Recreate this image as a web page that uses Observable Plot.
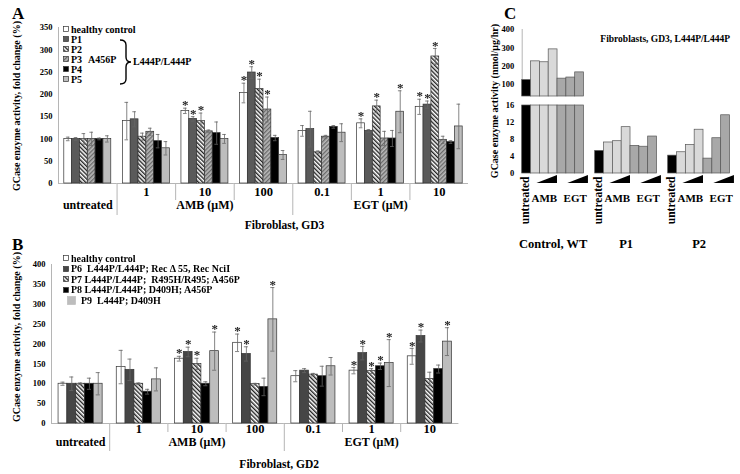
<!DOCTYPE html>
<html><head><meta charset="utf-8">
<script src="https://cdn.jsdelivr.net/npm/d3@7"></script>
<script src="https://cdn.jsdelivr.net/npm/@observablehq/plot@0.6"></script>
<style>
body{margin:0;background:#fff}
#fig{position:relative;width:740px;height:474px;overflow:hidden;background:#fff;font-family:"Liberation Serif","Times New Roman",serif;font-weight:bold;color:#000}
#fig > div.p{position:absolute}
.letter{position:absolute;font-size:17px;line-height:15px}
.ytitle{position:absolute;width:240px;height:12px;line-height:12px;text-align:center;white-space:nowrap;font-size:10px;transform:rotate(-90deg);transform-origin:center}
.leg{position:absolute;font-size:10px;white-space:pre}
.leg .row{display:flex;align-items:center}
.leg svg{margin-right:2px;flex:none}
.note{position:absolute;font-size:10px;white-space:nowrap}
.stars{will-change:transform}
</style></head>
<body>
<div id="fig">
<svg width="0" height="0" style="position:absolute">
 <defs>
  <pattern id="hatchBW" patternUnits="userSpaceOnUse" width="3" height="3" patternTransform="rotate(-45)">
   <rect width="3" height="3" fill="#fff"/><rect width="1.4" height="3" fill="#222"/>
  </pattern>
  <pattern id="hatchGray" patternUnits="userSpaceOnUse" width="3" height="3" patternTransform="rotate(45)">
   <rect width="3" height="3" fill="#b8b8b8"/><rect width="1.3" height="3" fill="#6a6a6a"/>
  </pattern>
 </defs>
</svg>
</div>
<script>
// ================= DATA =================
// Panels A & B: treatment groups (x facets)
const groupsAB = ["untreated","AMB 1","AMB 10","AMB 100","EGT 0.1","EGT 1","EGT 10"];
const doseLabels = ["","1","10","100","0.1","1","10"];
const drugLabelAt = ["untreated","AMB 10","EGT 1"];
const drugLabels = ["untreated","AMB (\u03bcM)","EGT (\u03bcM)"];

// Panel A (GD3)
const seriesA = ["healthy control","P1","P2","P3","P4","P5"];
const legendNoteA = ["","","","A456P","",""];
const aControl = [100,140,163,203,118,135,172];
const aControlErr = [4,42,6,22,12,10,17];
const aControlSig = [0,0,1,1,0,1,1];
const aP1 = [100,144,145,249,122,118,177];
const aP1Err = [3,17,5,13,40,3,8];
const aP1Sig = [0,0,1,1,0,0,1];
const aP2 = [100,105,140,212,70,173,285];
const aP2Err = [12,8,18,22,3,14,18];
const aP2Sig = [0,0,1,1,0,1,1];
const aP3 = [100,116,117,166,105,101,98];
const aP3Err = [15,8,3,28,3,16,8];
const aP3Sig = [0,0,0,1,0,0,0];
const aP4 = [100,95,113,102,127,101,93];
const aP4Err = [2,15,25,6,3,18,3];
const aP4Sig = [0,0,0,0,0,0,0];
const aP5 = [100,79,100,64,114,161,128];
const aP5Err = [7,15,10,10,20,47,50];
const aP5Sig = [0,0,0,0,0,1,0];

// Panel B (GD2)
const seriesB = ["healthy control","P6","P7","P8","P9"];
const legendB = ["healthy control","P6  L444P/L444P; Rec \u0394 55, Rec NciI","P7 L444P/L444P;  R495H/R495; A456P","P8 L444P/L444P; D409H; A456P","P9  L444P; D409H"];
const bControl = [100,142,163,203,119,133,169];
const bControlErr = [4,42,6,22,14,8,20];
const bControlSig = [0,0,1,1,0,1,1];
const bP6 = [100,135,180,175,133,177,220];
const bP6Err = [17,27,12,18,5,17,15];
const bP6Sig = [0,0,1,1,0,1,1];
const bP7 = [100,100,150,99,123,132,112];
const bP7Err = [2,2,14,2,3,6,17];
const bP7Sig = [0,0,1,0,0,1,0];
const bP8 = [100,80,100,92,119,144,137];
const bP8Err = [14,6,5,22,25,8,10];
const bP8Sig = [0,0,0,0,0,1,0];
const bP9 = [100,111,182,262,144,152,206];
const bP9Err = [28,29,48,80,22,59,35];
const bP9Sig = [0,0,1,1,0,1,1];

// Panel C (nmol/ug/hr)
const cGroups = ["Control, WT","P1","P2"];
const cConds = ["untreated","AMB low","AMB mid","AMB high","EGT low","EGT mid","EGT high"];
const cControl = [125,227,222,292,133,139,167];
const cP1 = [5.3,7.3,7.6,10.9,6.5,6.3,8.7];
const cP2 = [4.2,5.0,6.7,10.3,3.5,8.3,13.7];
const cUpperTicks = [100,200,300,400];
const cLowerTicks = [0,4,8,12,16];
const cWedgeConds = ["AMB low","AMB high","EGT low","EGT high"];
const cWedgeDrug = ["AMB","AMB","EGT","EGT"];
const cWedgeLevel = [0,1,0,1];
const cDrugLabelAt = ["AMB mid","EGT mid"];
const cDrugLabels = ["AMB","EGT"];
const cTitle = "Fibroblasts, GD3, L444P/L444P";

// ================= STYLES =================
const fillsA = ["#ffffff","#5a5a5a","url(#hatchBW)","url(#hatchGray)","#000000","#bdbdbd"];
const fillsB = ["#ffffff","#464646","url(#hatchBW)","#000000","#bdbdbd"];
const fillsC = ["#000000","#d9d9d9","#d9d9d9","#d9d9d9","#a8a8a8","#a8a8a8","#a8a8a8"];
const FONT = '"Liberation Serif","Times New Roman",serif';
const baseStyle = {fontFamily: FONT, fontSize: "8.5px", fontWeight: "bold", color: "#000", background: "transparent", overflow: "visible"};
const AXC = "#b5b5b5";

function buildRows(series, vals, errs, sigs) {
  return series.flatMap((s, i) => groupsAB.map((g, j) => ({s, g, v: vals[i][j], e: errs[i][j], sig: sigs[i][j]})));
}
const rowsA = buildRows(seriesA,
  [aControl,aP1,aP2,aP3,aP4,aP5],
  [aControlErr,aP1Err,aP2Err,aP3Err,aP4Err,aP5Err],
  [aControlSig,aP1Sig,aP2Sig,aP3Sig,aP4Sig,aP5Sig]);
const rowsB = buildRows(seriesB,
  [bControl,bP6,bP7,bP8,bP9],
  [bControlErr,bP6Err,bP7Err,bP8Err,bP9Err],
  [bControlSig,bP6Sig,bP7Sig,bP8Sig,bP9Sig]);

function groupedPanel(cfg) {
  const {rows, series, fills, yMax, width, height, left, right, top, bottom, padOuter,
         sepLong, sepShort, dy1, dy2, title, titleAt, titleDx, titleDy, groupFont} = cfg;
  const innerH = height - top - bottom;
  const step = (width - right - left) / groupsAB.length;
  const bw = step / (series.length + 2 * padOuter);
  const edge = -(bw / 2 + padOuter * bw);
  const first = series[0];
  const cap = bw * 0.27;
  return Plot.plot({
    width, height, marginLeft: left, marginRight: right, marginTop: top, marginBottom: bottom,
    style: baseStyle,
    fx: {domain: groupsAB, padding: 0, round: false, axis: null, label: null},
    x: {domain: series, paddingInner: 0, paddingOuter: padOuter, round: false, axis: null, label: null},
    y: {domain: [0, yMax], ticks: d3.range(0, yMax + 1, 50), tickSize: 0, tickPadding: 6, label: null},
    color: {domain: series, range: fills},
    marks: [
      Plot.ruleY([0], {stroke: AXC}),
      Plot.ruleX([groupsAB[0]], {fx: d => d, x: () => first, dx: edge, stroke: AXC}),
      Plot.ruleX(cfg.sepLongAt, {fx: d => d, x: () => first, dx: edge, insetTop: innerH, insetBottom: -sepLong, stroke: AXC}),
      Plot.ruleX(cfg.sepShortAt, {fx: d => d, x: () => first, dx: edge, insetTop: innerH, insetBottom: -sepShort, stroke: AXC}),
      Plot.barY(rows, {fx: "g", x: "s", y: "v", fill: "s", stroke: "#333", strokeWidth: 0.7}),
      Plot.ruleX(rows, {fx: "g", x: "s", y1: d => d.v - d.e, y2: d => d.v + d.e, stroke: "#666", strokeWidth: 0.8}),
      Plot.tickY(rows, {fx: "g", x: "s", y: d => d.v + d.e, insetLeft: cap, insetRight: cap, stroke: "#666", strokeWidth: 0.8}),
      Plot.tickY(rows, {fx: "g", x: "s", y: d => d.v - d.e, insetLeft: cap, insetRight: cap, stroke: "#666", strokeWidth: 0.8}),
      Plot.text(rows.filter(d => d.sig), {fx: "g", x: "s", y: d => d.v + d.e, text: () => "*", dy: -3, fontSize: 13, fill: "#222", opacity: 0.98, className: "stars"}),
      Plot.text(groupsAB.slice(1), {fx: d => d, text: d => doseLabels[groupsAB.indexOf(d)], frameAnchor: "bottom", dy: dy1, fontSize: groupFont, fill: "#000"}),
      Plot.text(drugLabelAt, {fx: d => d, text: drugLabels, frameAnchor: "bottom", dy: dy2, fontSize: 12, fill: "#000"}),
      Plot.text([titleAt], {fx: d => d, text: () => title, frameAnchor: "bottom", dy: titleDy, dx: titleDx, fontSize: 11.5, fill: "#000"})
    ]
  });
}

const fig = document.getElementById("fig");
function place(node, left, top) {
  const d = document.createElement("div");
  d.className = "p";
  d.style.left = left + "px"; d.style.top = top + "px";
  d.appendChild(node); fig.appendChild(d); return d;
}
function html(cls, text, style) {
  const d = document.createElement("div");
  d.className = cls; d.textContent = text;
  Object.assign(d.style, style); fig.appendChild(d); return d;
}

// ---- Panel A ----
place(groupedPanel({
  rows: rowsA, series: seriesA, fills: fillsA, yMax: 350,
  width: 480, height: 237, left: 58, right: 12, top: 27, bottom: 54, padOuter: 0.74,
  sepLongAt: ["AMB 1","EGT 0.1"], sepShortAt: ["AMB 10","AMB 100","EGT 1","EGT 10"],
  sepLong: 32, sepShort: 17, dy1: 12, dy2: 25, groupFont: 12.5,
  title: "Fibroblast, GD3", titleAt: "AMB 100", titleDx: 21, titleDy: 45
}), 0, 0);

// ---- Panel B ----
place(groupedPanel({
  rows: rowsB, series: seriesB, fills: fillsB, yMax: 400,
  width: 480, height: 237, left: 51, right: 21.6, top: 27, bottom: 51, padOuter: 0.8,
  sepLongAt: ["AMB 1","EGT 0.1"], sepShortAt: ["AMB 10","AMB 100","EGT 1","EGT 10"],
  sepLong: 28, sepShort: 9, dy1: 9, dy2: 22, groupFont: 12.5,
  title: "Fibroblast, GD2", titleAt: "AMB 100", titleDx: 24, titleDy: 44
}), 0, 237);

// ---- Panel C ----
const rowsC = cGroups.flatMap((g, i) => cConds.map((c, j) => ({g, c, v: [cControl, cP1, cP2][i][j]})));
const cW = 260, cL = 41.7, cR = 10.5, cPadInner = 0.153;
const cStep = (cW - cL - cR) / (cGroups.length - cPadInner);
const cBw = cStep * (1 - cPadInner) / cConds.length;
const cBase = {
  width: cW, marginLeft: cL, marginRight: cR,
  style: baseStyle,
  fx: {domain: cGroups, paddingInner: cPadInner, paddingOuter: 0, round: false, axis: null, label: null},
  x: {domain: cConds, padding: 0, round: false, axis: null, label: null},
  color: {domain: cConds, range: fillsC}
};
const cUpperMin = 36;
place(Plot.plot({
  ...cBase, height: 77, marginTop: 10, marginBottom: 0,
  y: {domain: [cUpperMin, 400], clamp: true, ticks: cUpperTicks, tickSize: 0, tickPadding: 8, label: null},
  marks: [
    Plot.ruleX([cGroups[0]], {fx: d => d, x: () => cConds[0], dx: -cBw / 2, stroke: AXC}),
    Plot.barY(rowsC, {filter: d => d.v > cUpperMin, fx: "g", x: "c", y: "v", fill: "c", stroke: "#555", strokeWidth: 0.7}),
    Plot.text([cGroups[2]], {fx: d => d, text: () => cTitle, frameAnchor: "top-right", textAnchor: "end", dy: 6, fontSize: 9.5, fill: "#000"})
  ]
}), 480, 19);
place(Plot.plot({
  ...cBase, height: 78, marginTop: 10, marginBottom: 0,
  y: {domain: [0, 16], clamp: true, ticks: cLowerTicks, tickSize: 0, tickPadding: 8, label: null},
  marks: [
    Plot.ruleX([cGroups[0]], {fx: d => d, x: () => cConds[0], dx: -cBw / 2, stroke: AXC}),
    Plot.barY(rowsC, {fx: "g", x: "c", y: "v", fill: "c", stroke: "#555", strokeWidth: 0.7})
  ]
}), 480, 95);
const wedgeRows = cGroups.flatMap(g => cWedgeConds.map((c, k) => ({g, c, drug: cWedgeDrug[k], level: cWedgeLevel[k]})));
place(Plot.plot({
  ...cBase, height: 92, marginTop: 2, marginBottom: 82,
  y: {domain: [0, 1], axis: null},
  marks: [
    Plot.areaY(wedgeRows, {fx: "g", x: "c", y1: 0, y2: "level", z: "drug", fill: "#000", dx: cBw / 2, curve: "linear"}),
    Plot.text(cGroups, {fx: d => d, x: () => cConds[0], text: () => "untreated", rotate: -90, textAnchor: "end", frameAnchor: "top", dy: 1, dx: -1, fontSize: 11.5, fill: "#000"}),
    Plot.text(cGroups.flatMap(g => cDrugLabelAt.map((c, k) => ({g, c, t: cDrugLabels[k]}))), {fx: "g", x: "c", text: "t", frameAnchor: "bottom", dy: 18, dx: 1.5, fontSize: 11, fill: "#000"}),
    Plot.text(cGroups, {fx: d => d, text: d => d, frameAnchor: "bottom", dy: 64, fontSize: 12.5, fill: "#000"})
  ]
}), 480, 173);

// ---- Titles, letters ----
html("letter", "A", {left: "12px", top: "6px"});
html("letter", "B", {left: "12px", top: "237px"});
html("letter", "C", {left: "504px", top: "6px"});
html("ytitle", "GCase enzyme activity, fold change (%)", {left: (17 - 120) + "px", top: (106 - 6) + "px"});
html("ytitle", "GCase enzyme activity, fold change (%)", {left: (17 - 120) + "px", top: (337 - 6) + "px"});
html("ytitle", "GCase enzyme activity (nmol/\u03bcg/hr)", {left: (495 - 120) + "px", top: (101 - 6) + "px"});

// ---- Legends ----
function legend(series, fills, labels, notes, left, top, rowH, bigLast) {
  const box = document.createElement("div");
  box.className = "leg"; box.style.left = left + "px"; box.style.top = top + "px";
  series.forEach((s, i) => {
    const row = document.createElement("div");
    row.className = "row"; row.style.height = rowH + "px";
    const big = bigLast && i === series.length - 1;
    const sz = big ? 8 : 5;
    row.innerHTML = `<svg width="${sz + 1}" height="${sz + 1}"${big ? ' style="margin-left:4px;margin-right:5px"' : ''}><rect x="0.5" y="0.5" width="${sz}" height="${sz}" fill="${fills[i]}" stroke="${big ? '#bdbdbd' : '#333'}" stroke-width="0.7"/></svg>`;
    const t = document.createElement("span"); t.textContent = labels[i]; row.appendChild(t);
    if (notes && notes[i]) { const n = document.createElement("span"); n.textContent = notes[i]; n.style.marginLeft = "6px"; row.appendChild(n); }
    box.appendChild(row);
  });
  fig.appendChild(box);
}
legend(seriesA, fillsA, seriesA, legendNoteA, 63, 24, 10, false);
legend(seriesB, fillsB, legendB, null, 63, 253, 10.5, true);

// brace for L444P/L444P
const br = document.createElementNS("http://www.w3.org/2000/svg", "svg");
br.setAttribute("width", "16"); br.setAttribute("height", "50");
br.style.position = "absolute"; br.style.left = "118px"; br.style.top = "38px";
br.innerHTML = '<path d="M2,2 Q8,2 8,7 L8,19 Q8,24 13,24 Q8,24 8,29 L8,41 Q8,46 2,46" fill="none" stroke="#000" stroke-width="1.4"/>';
fig.appendChild(br);
html("note", "L444P/L444P", {left: "133px", top: "56px"});
</script>
</body></html>
